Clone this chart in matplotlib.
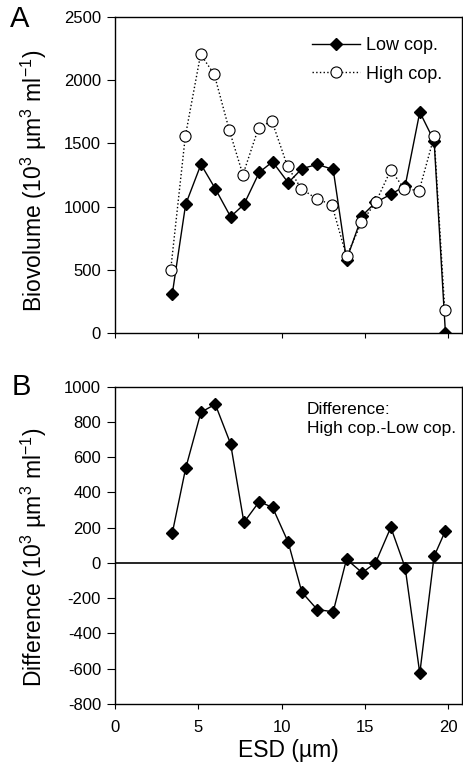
import numpy as np
import matplotlib
matplotlib.use("Agg")
import matplotlib.pyplot as plt

plt.rcParams["font.family"] = ["Liberation Sans", "DejaVu Sans"]
plt.rcParams["mathtext.fontset"] = "custom"
plt.rcParams["mathtext.rm"] = "Liberation Sans"
plt.rcParams["mathtext.it"] = "Liberation Sans:italic"
plt.rcParams["axes.unicode_minus"] = False

# ESD-Klassen (µm) und Biovolumen (10^3 µm^3 ml^-1)
esd_low = [3.44, 4.24, 5.16, 6.02, 6.94, 7.74, 8.66, 9.46, 10.4, 11.22,
           12.14, 13.1, 13.9, 14.84, 15.64, 16.56, 17.42, 18.3, 19.16, 19.84]
low_cop = [311, 1017, 1334, 1142, 920, 1017, 1271, 1355, 1189, 1300,
           1334, 1294, 580, 928, 1033, 1097, 1163, 1748, 1519, 0]

esd_high = [3.34, 4.22, 5.14, 5.96, 6.86, 7.68, 8.62, 9.42, 10.36, 11.18,
            12.1, 13.02, 13.9, 14.8, 15.66, 16.56, 17.36, 18.26, 19.16, 19.8]
high_cop = [495, 1555, 2204, 2046, 1606, 1252, 1624, 1677, 1318, 1142,
            1062, 1015, 606, 875, 1036, 1290, 1142, 1126, 1555, 182]

# Differenz High - Low
diff = [170, 536, 855, 900, 676, 230, 348, 315, 117, -166,
        -264, -277, 21, -55, 0, 202, -26, -626, 38, 183]

x_ticks = [0, 5, 10, 15, 20]
y_ticks_a = [0, 500, 1000, 1500, 2000, 2500]
y_ticks_b = [-800, -600, -400, -200, 0, 200, 400, 600, 800, 1000]

fig = plt.figure(figsize=(4.63, 7.71), dpi=100)
ax1 = fig.add_axes([0.2484, 0.568, 0.75, 0.41])
ax2 = fig.add_axes([0.2484, 0.0869, 0.75, 0.4116])

# ---- Panel A ----
ax1.plot(esd_low, low_cop, color="black", lw=1.0, marker="D", ms=6.5,
         mfc="black", mec="black", label="Low cop.")
ax1.plot(esd_high, high_cop, color="black", lw=1.0, ls=":", marker="o", ms=8,
         mfc="white", mec="black", mew=0.8, label="High cop.")
ax1.set_xlim(0, 20.85)
ax1.set_ylim(0, 2500)
ax1.set_xticks(x_ticks)
ax1.set_xticklabels([])
ax1.set_yticks(y_ticks_a)
ax1.set_ylabel(r"Biovolume (10$^{3}$ µm$^{3}$ ml$^{-1}$)", fontsize=16.5)
ax1.yaxis.set_label_coords(-0.19, 0.48)
ax1.legend(loc="upper right", bbox_to_anchor=(0.943, 0.937), frameon=False,
           fontsize=13, handlelength=2.65, handletextpad=0.35,
           borderaxespad=0, borderpad=0, labelspacing=0.65)
ax1.text(-0.303, 0.994, "A", transform=ax1.transAxes, fontsize=21, va="center")

# ---- Panel B ----
ax2.plot(esd_low, diff, color="black", lw=1.0, marker="D", ms=6.5,
         mfc="black", mec="black")
ax2.axhline(0, color="black", lw=1.2)
ax2.set_xlim(0, 20.85)
ax2.set_ylim(-800, 1000)
ax2.set_xticks(x_ticks)
ax2.set_yticks(y_ticks_b)
ax2.set_xlabel("ESD (µm)", fontsize=16.5, labelpad=3)
ax2.set_ylabel(r"Difference (10$^{3}$ µm$^{3}$ ml$^{-1}$)", fontsize=16.5)
ax2.yaxis.set_label_coords(-0.19, 0.464)
ax2.text(0.553, 0.952, "Difference:\nHigh cop.-Low cop.", transform=ax2.transAxes,
         fontsize=12.5, va="top", ha="left", linespacing=1.35)
ax2.text(-0.297, 1.0, "B", transform=ax2.transAxes, fontsize=21, va="center")

for ax in (ax1, ax2):
    for s in ax.spines.values():
        s.set_linewidth(1.0)
    ax.tick_params(axis="y", direction="out", length=6, width=0.8,
                   labelsize=12, pad=4)
    ax.tick_params(axis="x", direction="out", length=3.5, width=0.8,
                   labelsize=12, pad=8)

fig.savefig("out.png", dpi=100)
